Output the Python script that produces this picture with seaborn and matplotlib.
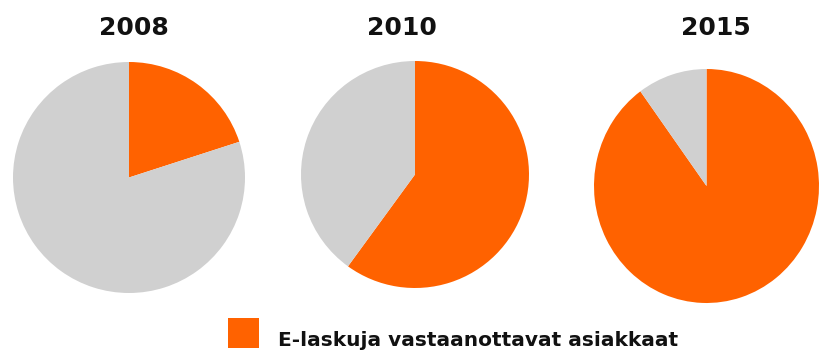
import matplotlib
matplotlib.use("Agg")
import matplotlib.pyplot as plt
import matplotlib.patches as mpatches
import seaborn as sns

sns.set_style("white")
plt.rcParams['font.family'] = ['DejaVu Sans']

# data
years = ['2008', '2010', '2015']
e_invoice_share = [20, 60, 90]    # % of customers receiving e-invoices
other_share = [80, 40, 10]
legend_label = 'E-laskuja vastaanottavat asiakkaat'

colors = ['#FF6200', '#D0D0D0']

W, H = 821, 352
fig = plt.figure(figsize=(W / 100, H / 100), dpi=100)
fig.patch.set_facecolor('white')

# pie bounding boxes in pixels (left, top, right, bottom) and title centres
pie_boxes = [(13, 62, 245, 293), (301, 61, 529, 288), (594, 69, 819, 303)]
title_x = [134, 402, 716]

for year, e_val, o_val, box, tx in zip(years, e_invoice_share, other_share, pie_boxes, title_x):
    x0, y0, x1, y1 = box
    ax = fig.add_axes([x0 / W, 1 - y1 / H, (x1 - x0) / W, (y1 - y0) / H])
    ax.pie([e_val, o_val], colors=colors, startangle=90, counterclock=False,
           radius=1, wedgeprops=dict(linewidth=0))
    ax.set_aspect('auto')
    ax.set_xlim(-1, 1)
    ax.set_ylim(-1, 1)
    ax.axis('off')
    fig.text(tx / W, 1 - 35 / H, year, ha='center', va='baseline',
             fontsize=18, fontweight='bold', color='#111111')

# legend: orange square + label
fig.add_artist(mpatches.Rectangle((228 / W, 1 - 348 / H), 31 / W, 30 / H,
                                  transform=fig.transFigure, facecolor=colors[0],
                                  edgecolor='none'))
fig.text(278 / W, 1 - 346 / H, legend_label, ha='left', va='baseline',
         fontsize=14.5, fontweight='bold', color='#111111')

fig.savefig('out.png', dpi=100, facecolor='white')
